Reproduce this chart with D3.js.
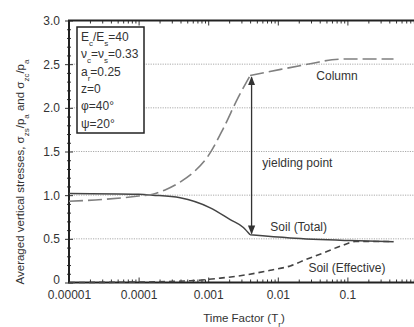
<!DOCTYPE html>
<html>
<head>
<meta charset="utf-8">
<script src="https://cdn.jsdelivr.net/npm/d3@7"></script>
<style>
  body { margin: 0; background: #fff; }
  svg { display: block; font-family: "Liberation Sans", Arial, sans-serif; }
  .tick text { fill: #333; font-size: 12px; }
</style>
</head>
<body>
<div id="chart"></div>
<script>
// time factor tick labels
const xTickValues = [1e-5, 1e-4, 1e-3, 1e-2, 1e-1];
const xTickLabels = ["0.00001", "0.0001", "0.001", "0.01", "0.1"];
const yTickValues = [0, 0.5, 1.0, 1.5, 2.0, 2.5, 3.0];
const yTickLabels = ["0", "0.5", "1.0", "1.5", "2.0", "2.5", "3.0"];
const gridValues = [0.5, 1.0, 1.5, 2.0, 2.5];

// column (long dashes)
const columnT = [1e-5, 3e-5, 1e-4, 1.6e-4, 2.4e-4, 3.95e-4, 6.5e-4, 1.0e-3, 1.64e-3, 2.7e-3, 4.0e-3, 1.1e-2, 3.2e-2, 0.06, 0.11, 0.46];
const columnV = [0.93, 0.95, 0.99, 1.01, 1.06, 1.15, 1.28, 1.45, 1.76, 2.12, 2.37, 2.44, 2.51, 2.55, 2.56, 2.56];

// soil total (solid)
const totalT = [1e-5, 1e-4, 1.6e-4, 3.95e-4, 1.07e-3, 2.07e-3, 3.2e-3, 4.0e-3, 1.5e-2, 0.11, 0.46];
const totalV = [1.02, 1.01, 1.0, 0.97, 0.855, 0.72, 0.63, 0.546, 0.51, 0.48, 0.466];

// soil effective (short dashes)
const effT = [1e-5, 1e-4, 5.5e-4, 1.49e-3, 3.65e-3, 7.8e-3, 1.51e-2, 2.49e-2, 4.55e-2, 8.8e-2, 0.13, 0.46];
const effV = [0.0, 0.005, 0.02, 0.05, 0.09, 0.14, 0.19, 0.26, 0.34, 0.43, 0.47, 0.47];

// yielding point arrow
const yieldT = 4.0e-3;
const arrowT = 4.2e-3;
const yieldTop = 2.35;
const yieldBottom = 0.56;

const paramLines = [
  [["E", ""], ["c", "sub"], ["/E", ""], ["s", "sub"], ["=40", ""]],
  [["\u03bd", ""], ["c", "sub"], ["=\u03bd", ""], ["s", "sub"], ["=0.33", ""]],
  [["a", ""], ["r", "sub"], ["=0.25", ""]],
  [["z=0", ""]],
  [["\u03c6=40\u00b0", ""]],
  [["\u03c8=20\u00b0", ""]]
];

const W = 414, H = 327;
const margin = {top: 20.5, right: -3, bottom: 44.5, left: 69};
const width = W - margin.left - margin.right;
const height = H - margin.top - margin.bottom;

const svg = d3.select("#chart").append("svg")
  .attr("width", W)
  .attr("height", H);

const chart = svg.append("g")
  .attr("transform", `translate(${margin.left},${margin.top})`);

const x = d3.scaleLog().domain([1e-5, 1]).range([0, width]);
const y = d3.scaleLinear().domain([0, 3]).range([height, 0]);

// gridlines
chart.append("g")
  .selectAll("line")
  .data(gridValues)
  .enter().append("line")
  .attr("x1", 0)
  .attr("x2", width)
  .attr("y1", d => y(d))
  .attr("y2", d => y(d))
  .attr("stroke", "#aaa")
  .attr("stroke-width", 1)
  .attr("stroke-dasharray", "1.2,1.2");

// minor ticks
let minorX = [];
for (let e = -5; e < 0; e++) {
  for (let k = 2; k <= 9; k++) minorX.push(k * Math.pow(10, e));
}
const minorY = d3.range(0, 3.01, 0.1).filter(v => Math.abs(v * 2 - Math.round(v * 2)) > 1e-6);

chart.append("g")
  .attr("transform", `translate(0,${height})`)
  .call(d3.axisBottom(x).tickValues(minorX).tickSize(-3).tickFormat(""))
  .call(g => g.select(".domain").remove());
chart.append("g")
  .call(d3.axisTop(x).tickValues(minorX).tickSize(-3).tickFormat(""))
  .call(g => g.select(".domain").remove());
chart.append("g")
  .call(d3.axisLeft(y).tickValues(minorY).tickSize(2).tickFormat(""))
  .call(g => g.select(".domain").remove());
chart.append("g")
  .call(d3.axisLeft(y).tickValues(minorY).tickSize(-2).tickFormat(""))
  .call(g => g.select(".domain").remove());

// major axes
const xAxis = chart.append("g")
  .attr("transform", `translate(0,${height})`)
  .call(d3.axisBottom(x).tickValues(xTickValues).tickSize(-5).tickPadding(8)
    .tickFormat((d, i) => xTickLabels[i]));
xAxis.select(".domain").remove();

chart.append("g")
  .call(d3.axisTop(x).tickValues(xTickValues).tickSize(-5).tickFormat(""))
  .call(g => g.select(".domain").remove());

const yAxis = chart.append("g")
  .call(d3.axisLeft(y).tickValues(yTickValues).tickSize(4).tickPadding(5)
    .tickFormat((d, i) => yTickLabels[i]));
yAxis.select(".domain").remove();
// lift the zero label so it clears 0.00001
yAxis.selectAll(".tick text").filter(d => d === 0).attr("dy", "0.05em");

chart.append("g")
  .call(d3.axisLeft(y).tickValues(yTickValues).tickSize(-4).tickFormat(""))
  .call(g => g.select(".domain").remove());

chart.selectAll(".tick line").attr("stroke", "#333");

// frame
chart.append("rect")
  .attr("x", 0)
  .attr("y", 0)
  .attr("width", width)
  .attr("height", height)
  .attr("fill", "none")
  .attr("stroke", "#222")
  .attr("stroke-width", 2);

const line = d3.line()
  .x(d => x(d[0]))
  .y(d => y(d[1]))
  .curve(d3.curveMonotoneX);

// curves: split at the yield point so the corner stays sharp
function drawCurve(ts, vs, splitAt, stroke, sw, dash) {
  let pts = ts.map((t, i) => [t, vs[i]]);
  let segs = [pts];
  if (splitAt) {
    segs = [pts.filter(p => p[0] <= splitAt), pts.filter(p => p[0] >= splitAt)];
  }
  let p = chart.append("path")
    .attr("d", segs.map(s => line(s)).join(""))
    .attr("fill", "none")
    .attr("stroke", stroke)
    .attr("stroke-width", sw);
  if (dash) p.attr("stroke-dasharray", dash);
}

drawCurve(effT, effV, null, "#444", 1.6, "6,4");
drawCurve(totalT, totalV, yieldT, "#444", 1.5, null);
drawCurve(columnT, columnV, yieldT, "#808080", 1.6, "14,5");

// double arrow
const defs = svg.append("defs");
defs.append("marker")
  .attr("id", "arrow")
  .attr("viewBox", "0 0 10 10")
  .attr("refX", 9)
  .attr("refY", 5)
  .attr("markerWidth", 7)
  .attr("markerHeight", 9)
  .attr("orient", "auto-start-reverse")
  .append("path")
  .attr("d", "M0,1 L10,5 L0,9 Z")
  .attr("fill", "#333");

chart.append("line")
  .attr("x1", x(arrowT))
  .attr("x2", x(arrowT))
  .attr("y1", y(yieldTop))
  .attr("y2", y(yieldBottom))
  .attr("stroke", "#333")
  .attr("stroke-width", 1.3)
  .attr("marker-start", "url(#arrow)")
  .attr("marker-end", "url(#arrow)");

// curve labels
const labels = [
  {text: "Column", t: 0.0358, v: 2.37},
  {text: "yielding point", t: 6.0e-3, v: 1.37},
  {text: "Soil (Total)", t: 7.8e-3, v: 0.64},
  {text: "Soil (Effective)", t: 0.0275, v: 0.17}
];
chart.append("g")
  .selectAll("text")
  .data(labels)
  .enter().append("text")
  .attr("x", d => x(d.t))
  .attr("y", d => y(d.v))
  .attr("dy", "0.35em")
  .attr("font-size", 12)
  .attr("fill", "#333")
  .text(d => d.text);

// parameter box
const box = svg.append("g").attr("transform", "translate(77,27)");
box.append("rect")
  .attr("width", 67)
  .attr("height", 106)
  .attr("fill", "#fff")
  .attr("stroke", "#222")
  .attr("stroke-width", 1.5);

paramLines.forEach(function (parts, i) {
  let t = box.append("text")
    .attr("x", 4)
    .attr("y", 14 + i * 17.3)
    .attr("font-size", 12)
    .attr("fill", "#333");
  parts.forEach(function (p) {
    let span = t.append("tspan").text(p[0]);
    if (p[1] === "sub") span.attr("baseline-shift", "sub").attr("font-size", 8);
  });
});

// axis titles
const yTitle = svg.append("text")
  .attr("transform", "translate(24,172) rotate(-90)")
  .attr("text-anchor", "middle")
  .attr("font-size", 11.5)
  .attr("fill", "#333");
[["Averaged vertical stresses, \u03c3", ""], ["zs", "sub"], ["/p", ""], ["a", "sub"],
 [" and \u03c3", ""], ["zc", "sub"], ["/p", ""], ["a", "sub"]].forEach(function (p) {
  let span = yTitle.append("tspan").text(p[0]);
  if (p[1] === "sub") span.attr("baseline-shift", "sub").attr("font-size", 8);
});

const xTitle = svg.append("text")
  .attr("x", 244)
  .attr("y", 322)
  .attr("text-anchor", "middle")
  .attr("font-size", 11.5)
  .attr("fill", "#333");
xTitle.append("tspan").text("Time Factor (T");
xTitle.append("tspan").text("r").attr("baseline-shift", "sub").attr("font-size", 8);
xTitle.append("tspan").text(")");
</script>
</body>
</html>
